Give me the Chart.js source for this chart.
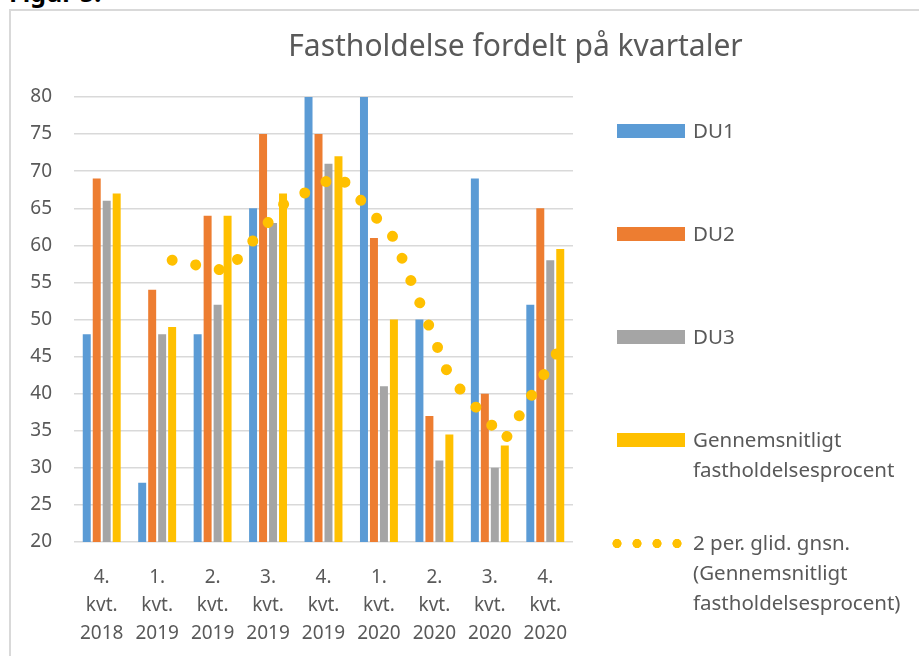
<!DOCTYPE html>
<html>
<head>
<meta charset="utf-8">
<script src="https://cdn.jsdelivr.net/npm/chart.js@4/dist/chart.umd.min.js"></script>
<style>
  html, body { margin:0; padding:0; background:#fff; }
  body { width:919px; height:656px; overflow:hidden; position:relative; font-family:"Noto Sans", sans-serif; }
  #fig { position:absolute; left:9px; top:-20px; font-size:25px; line-height:25px; font-weight:bold; color:#000; white-space:nowrap; }
  #frame { position:absolute; left:9px; top:9px; width:908px; height:645px; border-left:2px solid #d9d9d9; border-top:2px solid #d9d9d9; }
  #c { position:absolute; left:0; top:0; }
  #title { position:absolute; left:515.5px; top:30px; transform:translateX(-50%); font-size:30px; line-height:30px; color:#595959; white-space:nowrap; }
  #legend { position:absolute; left:0; top:0; }
  .item { position:absolute; left:693px; font-size:20.5px; line-height:30px; color:#595959; white-space:nowrap; }
  .sw { position:absolute; left:-76px; top:9px; width:68px; height:14px; }
  .dots { position:absolute; left:-86.3px; top:11.8px; width:80px; height:9px;
          background: radial-gradient(circle at center, #FFC000 0, #FFC000 4.3px, rgba(255,192,0,0) 4.9px) 0 0 / 20px 9px repeat-x; }
</style>
</head>
<body>
<div id="fig">Figur 5:</div>
<div id="frame"></div>
<canvas id="c" width="919" height="656"></canvas>
<div id="title">Fastholdelse fordelt på kvartaler</div>
<div id="legend"></div>
<script>
// ---- data ----
const categories = [
  ["4.", "kvt.", "2018"], ["1.", "kvt.", "2019"], ["2.", "kvt.", "2019"],
  ["3.", "kvt.", "2019"], ["4.", "kvt.", "2019"], ["1.", "kvt.", "2020"],
  ["2.", "kvt.", "2020"], ["3.", "kvt.", "2020"], ["4.", "kvt.", "2020"]
];
const du1 = [48, 28, 48, 65, 84, 84, 50, 69, 52];
const du2 = [69, 54, 64, 75, 75, 61, 37, 40, 65];
const du3 = [66, 48, 52, 63, 71, 41, 31, 30, 58];
const avgPct = [67, 49, 64, 67, 72, 50, 34.5, 33, 59.5];
const movingAvg = [null, 58, 56.5, 65.5, 69.5, 61, 42.25, 33.75, 46.25];
const seriesNames = ["DU1", "DU2", "DU3", "Gennemsnitligt fastholdelsesprocent"];
const trendName = "2 per. glid. gnsn. (Gennemsnitligt fastholdelsesprocent)";
const yTicks = [20, 25, 30, 35, 40, 45, 50, 55, 60, 65, 70, 75, 80];

const colors = ["#5B9BD5", "#ED7D31", "#A5A5A5", "#FFC000"];
const barData = [du1, du2, du3, avgPct];

const datasets = barData.map((d, i) => ({
  type: 'bar',
  label: seriesNames[i],
  data: d,
  backgroundColor: colors[i],
  borderWidth: 0,
  categoryPercentage: 0.72,
  barPercentage: 0.8,
  clip: 0,
  order: 1
}));
datasets.push({
  type: 'line',
  label: trendName,
  data: movingAvg,
  borderColor: "#FFC000",
  borderWidth: 11,
  borderCapStyle: 'round',
  borderDash: [0.001, 24],
  pointRadius: 0,
  pointHoverRadius: 0,
  tension: 0,
  fill: false,
  clip: false,
  order: 0
});

// Excel places the moving-average trendline on the "Gennemsnitligt" bars' centres
const alignTrend = {
  id: 'alignTrend',
  afterDatasetsUpdate(chart) {
    const barMeta = chart.getDatasetMeta(3);
    const lineMeta = chart.getDatasetMeta(4);
    lineMeta.data.forEach((pt, i) => { if (barMeta.data[i]) pt.x = barMeta.data[i].x; });
  }
};

const tickFont = { family: "Noto Sans", size: 19, lineHeight: 1.46 };

new Chart(document.getElementById('c'), {
  data: { labels: categories, datasets },
  options: {
    responsive: false,
    animation: false,
    events: [],
    layout: { padding: { left: 0, top: 97, right: 346, bottom: 0 } },
    plugins: { legend: { display: false }, tooltip: { enabled: false }, title: { display: false } },
    scales: {
      x: {
        grid: { display: false, drawTicks: false },
        border: { display: false },
        ticks: { color: "#595959", font: tickFont, padding: 22, maxRotation: 0, autoSkip: false },
        afterFit: (s) => { s.height = 114; }
      },
      y: {
        min: 20, max: 80,
        afterBuildTicks: (s) => { s.ticks = yTicks.map(v => ({ value: v })); },
        grid: { color: "#d9d9d9", lineWidth: 1.5, drawTicks: false },
        border: { display: false },
        ticks: { color: "#595959", font: { family: "Noto Sans", size: 19 }, padding: 22 },
        afterFit: (s) => { s.width = 74; }
      }
    }
  },
  plugins: [alignTrend]
});

// ---- HTML legend ----
const legend = document.getElementById('legend');
const names = seriesNames.concat([trendName]);
const legendLines = [["DU1"], ["DU2"], ["DU3"],
  ["Gennemsnitligt", "fastholdelsesprocent"],
  ["2 per. glid. gnsn.", "(Gennemsnitligt", "fastholdelsesprocent)"]];
names.forEach((n, i) => {
  const it = document.createElement('div');
  it.className = 'item';
  it.style.top = (115 + i * 103) + 'px';
  const mark = document.createElement('div');
  if (i < 4) { mark.className = 'sw'; mark.style.background = colors[i]; }
  else { mark.className = 'dots'; }
  it.appendChild(mark);
  legendLines[i].forEach((t, k) => {
    if (k) it.appendChild(document.createElement('br'));
    it.appendChild(document.createTextNode(t));
  });
  legend.appendChild(it);
});
</script>
</body>
</html>
